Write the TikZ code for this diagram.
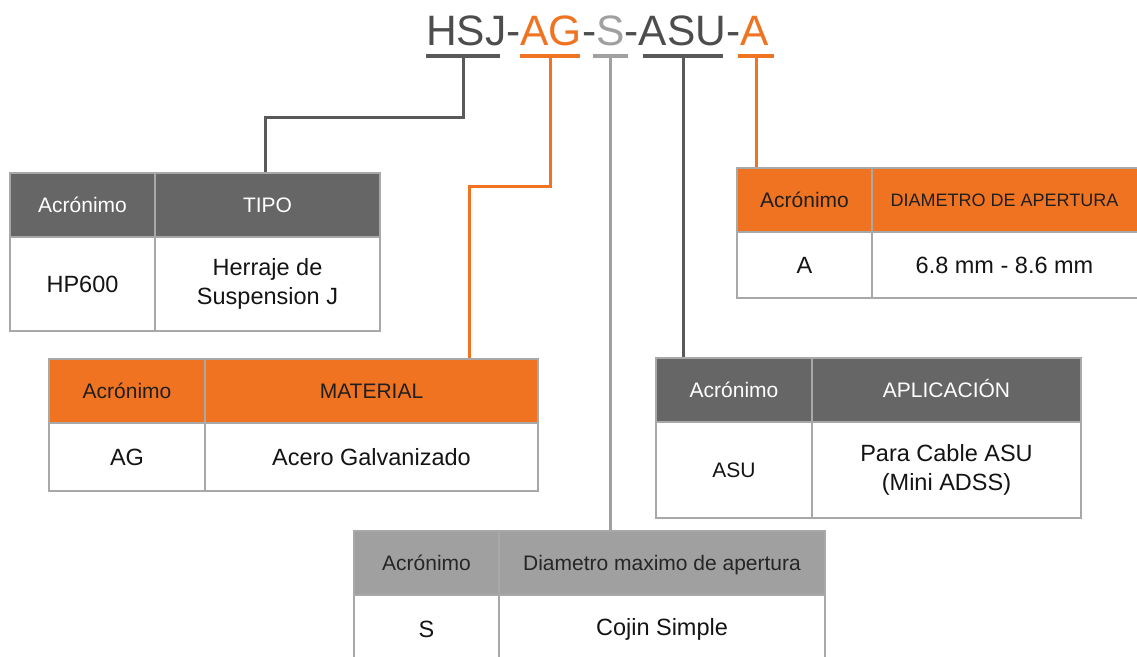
\documentclass[tikz,border=0pt]{standalone}
\usepackage{fontspec}
\setmainfont{Liberation Sans}
\definecolor{org}{HTML}{F07322}
\definecolor{dgray}{HTML}{666666}
\definecolor{lgray}{HTML}{A0A0A0}
\definecolor{bord}{HTML}{A8A8A8}
\definecolor{ttl}{HTML}{4D4D4D}
\definecolor{lnk}{HTML}{595959}
\begin{document}
\begin{tikzpicture}[x=1pt,y=-1pt,
  cell/.style={draw=bord, line width=2pt, inner sep=0pt, anchor=north west, align=center},
  hfont/.style={font=\fontsize{21}{25}\selectfont, text height=15pt, text depth=0pt},
  hdrO/.style={cell, hfont, fill=org, text=black!88},
  hdrD/.style={cell, hfont, fill=dgray, text=white},
  hdrL/.style={cell, hfont, fill=lgray, text=black!85},
  body/.style={cell, fill=white, text=black!92, font=\fontsize{23.5}{29}\selectfont},
  uline/.style={inner sep=0pt, minimum height=4pt},
  conn/.style={line width=3pt}
]
\clip (0,0) rectangle (1137,656);
\fill[white] (0,0) rectangle (1137,656);

% title
\node[anchor=base west, inner sep=0pt, font=\fontsize{42.5}{50}\selectfont] (title) at (426,45)
  {\textcolor{ttl}{HSJ-}\textcolor{org}{AG}\textcolor{ttl}{-}\textcolor{lgray}{S}\textcolor{ttl}{-ASU-}\textcolor{org}{A}};

% underlines
\node[uline, fill=lnk, minimum width=74pt] (uHSJ) at (463,56) {};
\node[uline, fill=org, minimum width=60pt] (uAG) at (550,56) {};
\node[uline, fill=lgray, minimum width=35pt] (uS) at (610.5,56) {};
\node[uline, fill=lnk, minimum width=80pt] (uASU) at (683,56) {};
\node[uline, fill=org, minimum width=36pt] (uA) at (756,56) {};

% TIPO table
\node[hdrD, minimum width=145pt, minimum height=64pt] (tipoA) at (9,172) {Acrónimo};
\node[hdrD, minimum width=225pt, minimum height=64pt] (tipoT) at (154,172) {TIPO};
\node[body, minimum width=145pt, minimum height=94pt] (tipoB1) at (9,236) {HP600};
\node[body, minimum width=225pt, minimum height=94pt] (tipoB2) at (154,236) {Herraje de\\Suspension J};

% MATERIAL table
\node[hdrO, minimum width=156pt, minimum height=64pt] (matA) at (48,358) {Acrónimo};
\node[hdrO, minimum width=333pt, minimum height=64pt] (matT) at (204,358) {MATERIAL};
\node[body, minimum width=156pt, minimum height=68pt] (matB1) at (48,422) {AG};
\node[body, minimum width=333pt, minimum height=68pt] (matB2) at (204,422) {Acero Galvanizado};

% DIAMETRO DE APERTURA table
\node[hdrO, minimum width=135pt, minimum height=64pt] (diA) at (736,167) {Acrónimo};
\node[hdrO, minimum width=275pt, minimum height=64pt, font=\fontsize{18}{22}\selectfont, text height=12.9pt] (diT) at (871,167) {\hspace*{-10pt}DIAMETRO DE APERTURA};
\node[body, minimum width=135pt, minimum height=66pt] (diB1) at (736,231) {A};
\node[body, minimum width=275pt, minimum height=66pt] (diB2) at (871,231) {\hspace*{-10pt}6.8 mm - 8.6 mm};

% APLICACION table
\node[hdrD, minimum width=156pt, minimum height=64pt] (apA) at (655,357) {Acrónimo};
\node[hdrD, minimum width=269pt, minimum height=64pt] (apT) at (811,357) {APLICACIÓN};
\node[body, minimum width=156pt, minimum height=96pt, font=\fontsize{21}{25}\selectfont] (apB1) at (655,421) {ASU};
\node[body, minimum width=269pt, minimum height=96pt] (apB2) at (811,421) {Para Cable ASU\\(Mini ADSS)};

% S table
\node[hdrL, minimum width=145pt, minimum height=64pt] (sA) at (353,530) {Acrónimo};
\node[hdrL, minimum width=326pt, minimum height=64pt] (sT) at (498,530) {Diametro maximo de apertura};
\node[body, minimum width=145pt, minimum height=68pt] (sB1) at (353,594) {S};
\node[body, minimum width=326pt, minimum height=68pt] (sB2) at (498,594) {Cojin Simple};

% connectors
\coordinate (kH) at (463,117);
\draw[conn, lnk] (uHSJ.south) -- (kH) -| ([xshift=-2.5pt]tipoT.north);
\coordinate (kG) at (550,186);
\draw[conn, org] (uAG.south) -- (kG) -| ([xshift=-70pt]matT.north east);
\draw[conn, lgray] (uS.south) -- (uS.south |- sT.north);
\draw[conn, lnk] (uASU.south) -- (uASU.south |- apA.north);
\draw[conn, org] (uA.south) -- (uA.south |- diA.north);
\end{tikzpicture}
\end{document}
